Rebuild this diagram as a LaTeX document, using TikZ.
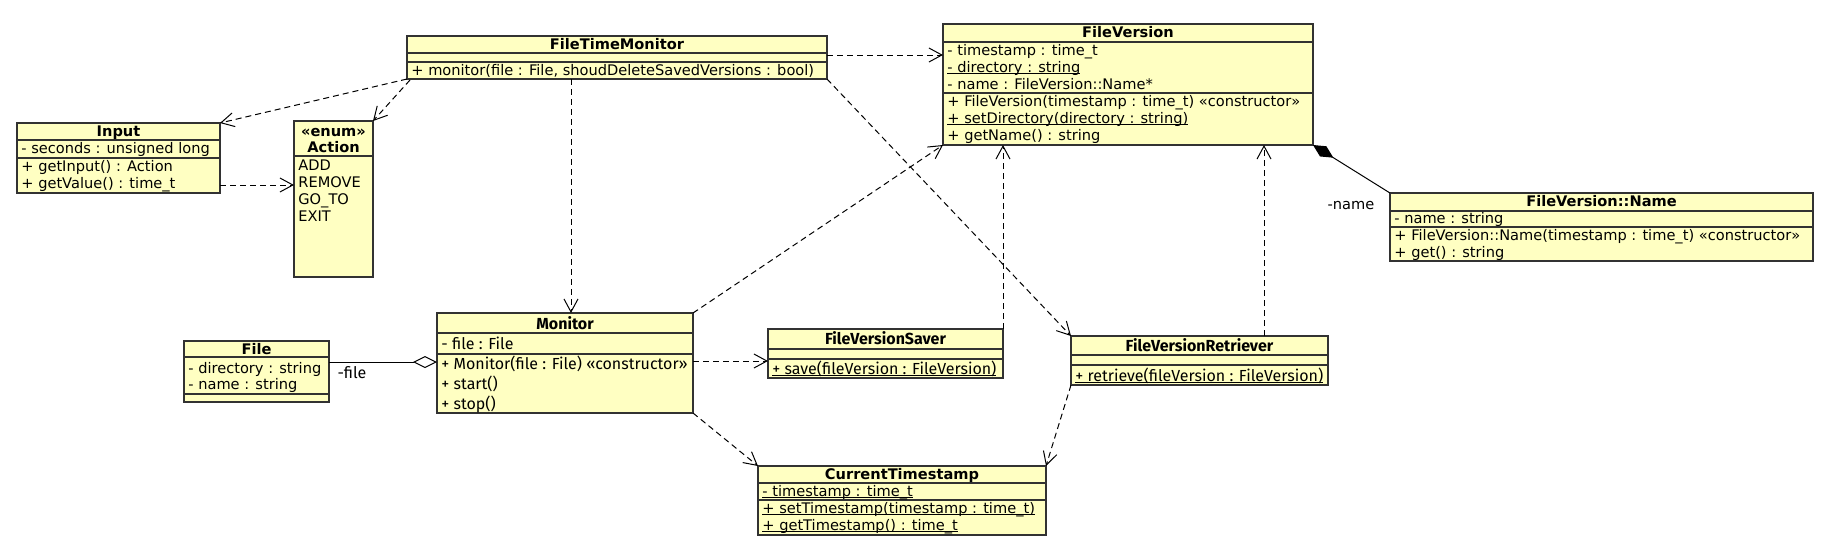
\documentclass[tikz,border=0pt]{standalone}
\usepackage{fontspec}
\setmainfont{DejaVu Sans}
\newfontfamily\altfont{Fira Sans}
\usetikzlibrary{arrows.meta,fit,calc}
\definecolor{umlfill}{RGB}{255,255,194}
\definecolor{umlline}{RGB}{50,50,50}
\newcommand{\sepln}[2]{\draw[sepl] (#1.west |- 0,#2) -- (#1.east |- 0,#2);}
\newcommand{\myul}[1]{\setbox0\hbox{#1}\rlap{\rule[-1.1pt]{\wd0}{0.45pt}}\box0}
\begin{document}
\begin{tikzpicture}[x=0.5pt,y=-0.5pt,
  cls/.style={draw=umlline, fill=umlfill, line width=0.6pt, inner sep=0pt, outer sep=0pt},
  sepl/.style={draw=umlline, line width=0.6pt},
  txt/.style={anchor=base west, inner sep=0pt, font=\fontsize{7.3}{8}\selectfont},
  ttl/.style={anchor=base, inner sep=0pt, font=\fontsize{7.3}{8}\selectfont\bfseries},
  atxt/.style={anchor=base west, inner sep=0pt, font=\altfont\fontsize{8}{9}\selectfont},
  attl/.style={anchor=base, inner sep=0pt, font=\altfont\fontsize{8}{9}\selectfont\bfseries},
  lbl/.style={inner sep=0pt, font=\fontsize{7.3}{8}\selectfont},
  dep/.style={draw, line width=0.5pt, dash pattern=on 3pt off 2pt, -{Straight Barb[length=6.5pt,width=7pt]}},
  assoc/.style={draw, line width=0.5pt},
]
\useasboundingbox (0,0) rectangle (1832,554);

% ---------- FileTimeMonitor
\node[cls, fit={(407,36)(827,79)}] (ftm) {};
\sepln{ftm}{53}\sepln{ftm}{62}
\node[ttl] (ftmT) at (617,49.5) {FileTimeMonitor};
\node[txt] (ftm1) at (411,75) {+ monitor(file : File, shoudDeleteSavedVersions : bool)};

% ---------- FileVersion
\node[cls, fit={(943,24)(1313,145)}] (fv) {};
\sepln{fv}{42}\sepln{fv}{93}
\node[ttl] (fvT) at (1128,37.5) {FileVersion};
\node[txt] (fv1) at (947,55) {- timestamp : time\_t};
\node[txt] (fv2) at (947,72) {\myul{- directory : string}};
\node[txt] (fv3) at (947,89) {- name : FileVersion::Name*};
\node[txt] (fv4) at (947,106) {+ FileVersion(timestamp : time\_t) «constructor»};
\node[txt] (fv5) at (947,123) {\myul{+ setDirectory(directory : string)}};
\node[txt] (fv6) at (947,140) {+ getName() : string};

% ---------- Input
\node[cls, fit={(17,123)(220,193)}] (input) {};
\sepln{input}{140}\sepln{input}{158}
\node[ttl] (inT) at (118.5,136) {Input};
\node[txt] (in1) at (21,153.5) {- seconds : unsigned long};
\node[txt] (in2) at (21,171) {+ getInput() : Action};
\node[txt] (in3) at (21,188) {+ getValue() : time\_t};

% ---------- Action
\node[cls, fit={(294,121)(373,277)}] (action) {};
\sepln{action}{156}
\node[ttl] (acT1) at (333.5,136.5) {«enum»};
\node[ttl] (acT2) at (333.5,152.5) {Action};
\node[txt] (ac1) at (298,170.5) {ADD};
\node[txt] (ac2) at (298,187.5) {REMOVE};
\node[txt] (ac3) at (298,204.5) {GO\_TO};
\node[txt] (ac4) at (298,221.5) {EXIT};

% ---------- FileVersion::Name
\node[cls, fit={(1390,193)(1813,261)}] (name) {};
\sepln{name}{211}\sepln{name}{227}
\node[ttl] (nmT) at (1601.5,206) {FileVersion::Name};
\node[txt] (nm1) at (1394,223.5) {- name : string};
\node[txt] (nm2) at (1394,240) {+ FileVersion::Name(timestamp : time\_t) «constructor»};
\node[txt] (nm3) at (1394,257) {+ get() : string};

% ---------- File
\node[cls, fit={(184,341)(329,402)}] (file) {};
\sepln{file}{357}\sepln{file}{394}
\node[ttl] (flT) at (256.5,354.5) {File};
\node[txt] (fl1) at (188,373) {- directory : string};
\node[txt] (fl2) at (188,389) {- name : string};

% ---------- Monitor
\node[cls, fit={(437,313)(693,413)}] (monitor) {};
\sepln{monitor}{333}\sepln{monitor}{354}
\node[attl] (moT) at (565,329) {Monitor};
\node[atxt] (mo1) at (441,349.5) {- file : File};
\node[atxt] (mo2) at (441,369) {+ Monitor(file : File) «constructor»};
\node[atxt] (mo3) at (441,389) {+ start()};
\node[atxt] (mo4) at (441,409) {+ stop()};

% ---------- FileVersionSaver
\node[cls, fit={(768,329)(1003,378)}] (saver) {};
\sepln{saver}{349}\sepln{saver}{359}
\node[attl] (svT) at (885.5,344) {FileVersionSaver};
\node[atxt] (sv1) at (772,374) {\myul{+ save(fileVersion : FileVersion)}};

% ---------- FileVersionRetriever
\node[cls, fit={(1071,336)(1328,385)}] (retr) {};
\sepln{retr}{355}\sepln{retr}{365}
\node[attl] (rtT) at (1199.5,351) {FileVersionRetriever};
\node[atxt] (rt1) at (1075,381) {\myul{+ retrieve(fileVersion : FileVersion)}};

% ---------- CurrentTimestamp
\node[cls, fit={(758,466)(1046,535)}] (ct) {};
\sepln{ct}{483}\sepln{ct}{500}
\node[ttl] (ctT) at (902,479) {CurrentTimestamp};
\node[txt] (ct1) at (762,496) {\myul{- timestamp : time\_t}};
\node[txt] (ct2) at (762,513) {\myul{+ setTimestamp(timestamp : time\_t)}};
\node[txt] (ct3) at (762,530) {\myul{+ getTimestamp() : time\_t}};

% ---------- connectors
\draw[dep] (ftm.south west) -- (input.north east);
\draw[dep] ($(ftm.south west)+(3,1)$) -- (action.north east);
\draw[dep] (input.east |- 0,185) -- (action.west |- 0,185);
\draw[dep] (ftm.east |- 0,55) -- (fv.west |- 0,55);
\draw[dep] (ftm.south -| 571,0) -- (monitor.north -| 571,0);
\draw[dep] (ftm.south east) -- (retr.north west);
\draw[dep] (monitor.north east) -- (fv.south west);
\draw[dep] (monitor.east |- 0,361) -- (saver.west |- 0,361);
\draw[dep] (monitor.south east) -- (ct.north west);
\draw[dep] (saver.north east) -- (saver.north east |- fv.south);
\draw[dep] (retr.north -| 1264,0) -- (fv.south -| 1264,0);
\draw[dep] (retr.south west) -- (ct.north east);
\draw[assoc, {Diamond[open, fill=white, length=12pt, width=6pt]}-] (monitor.west |- 0,362) -- (file.east |- 0,362);
\draw[assoc, {Diamond[length=12pt, width=6pt]}-] (fv.south east) -- (name.north west);
\node[lbl, font=\altfont\fontsize{8}{9}\selectfont] (filelbl) at (352,373) {-file};
\node[lbl] (namelbl) at (1351,206) {-name};
\end{tikzpicture}
\end{document}
